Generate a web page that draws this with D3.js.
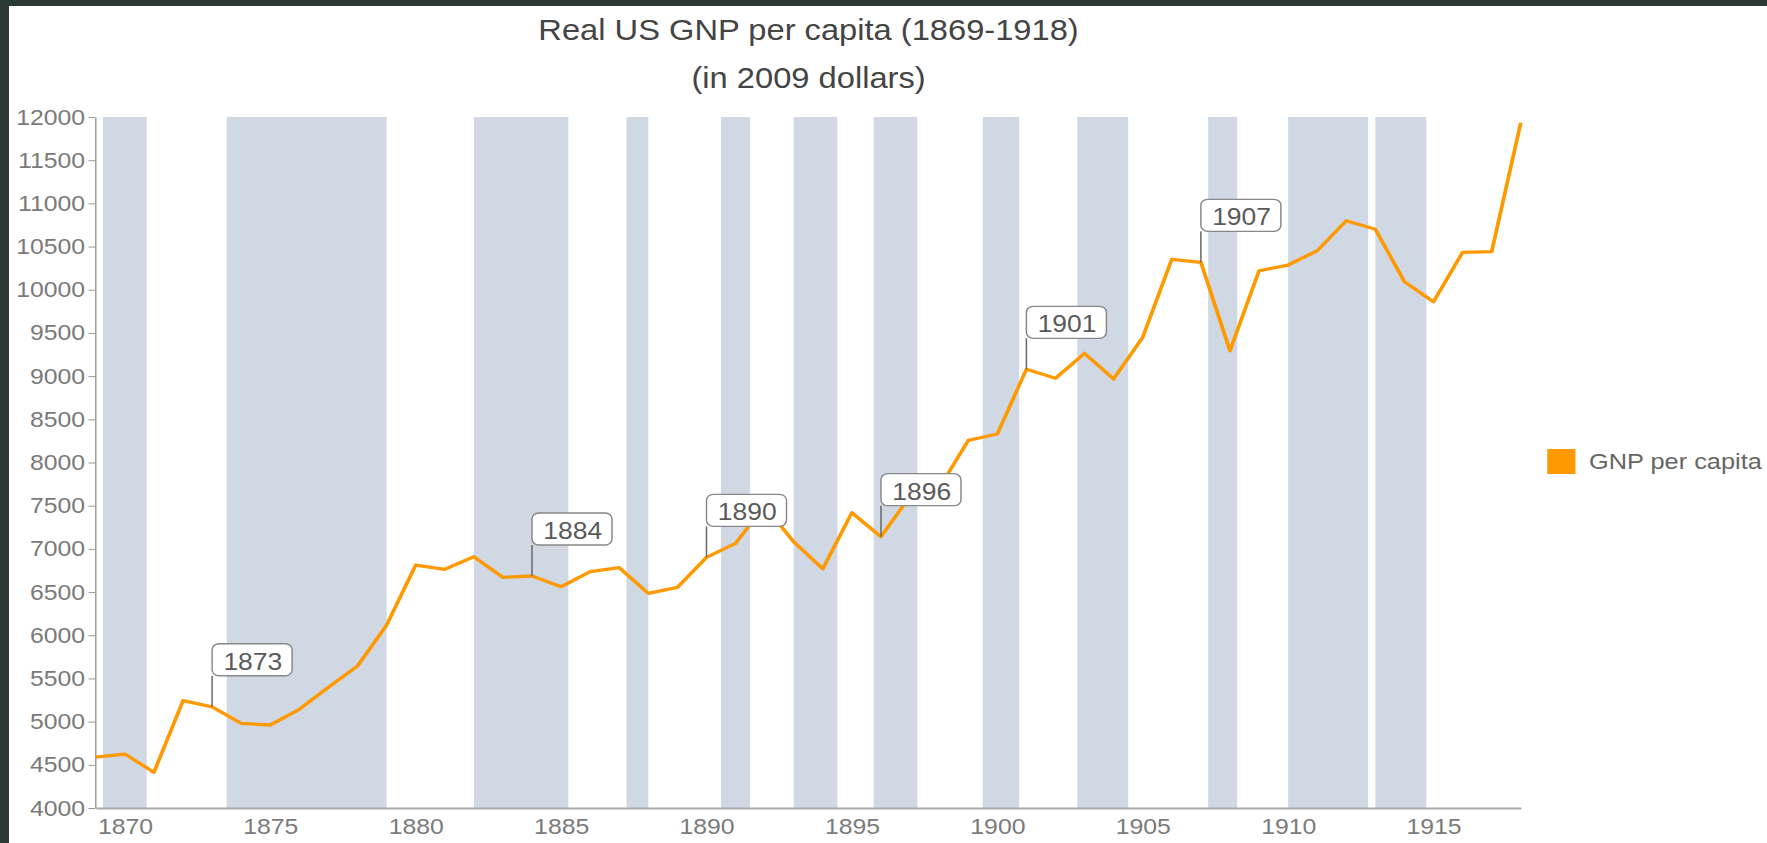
<!DOCTYPE html>
<html>
<head>
<meta charset="utf-8">
<script src="https://cdnjs.cloudflare.com/ajax/libs/d3/7.8.5/d3.min.js"></script>
<style>
  html, body { margin: 0; padding: 0; background: #2b3a34; overflow: hidden; }
  svg { display: block; }
  text { font-family: "Liberation Sans", Arial, Helvetica, sans-serif; }
</style>
</head>
<body>
<svg id="chart" width="1767" height="843"></svg>
<script>
// Data
var years = [1869, 1870, 1871, 1872, 1873, 1874, 1875, 1876, 1877, 1878,
             1879, 1880, 1881, 1882, 1883, 1884, 1885, 1886, 1887, 1888,
             1889, 1890, 1891, 1892, 1893, 1894, 1895, 1896, 1897, 1898,
             1899, 1900, 1901, 1902, 1903, 1904, 1905, 1906, 1907, 1908,
             1909, 1910, 1911, 1912, 1913, 1914, 1915, 1916, 1917, 1918];
var gnpPerCapita = [4590, 4625, 4413, 5242, 5172, 4980, 4961, 5142, 5397, 5644,
                    6118, 6813, 6763, 6909, 6670, 6686, 6562, 6736, 6782, 6485,
                    6555, 6902, 7064, 7500, 7080, 6770, 7419, 7141, 7610, 7705,
                    8255, 8330, 9079, 8975, 9264, 8967, 9449, 10352, 10318, 9294,
                    10220, 10286, 10452, 10799, 10700, 10093, 9860, 10433, 10441, 11934];

// recession periods (start, end) in fractional years
var recessionStart = [1869.25, 1873.5, 1882.0, 1887.25, 1890.5, 1893.0,
                      1895.75, 1899.5, 1902.75, 1907.25, 1910.0, 1913.0];
var recessionEnd   = [1870.75, 1879.0, 1885.25, 1888.0, 1891.5, 1894.5,
                      1897.25, 1900.75, 1904.5, 1908.25, 1912.75, 1914.75];

var labelYears = [1873, 1884, 1890, 1896, 1901, 1907];
var xTicks = [1870, 1875, 1880, 1885, 1890, 1895, 1900, 1905, 1910, 1915];
var yTicks = d3.range(4000, 12001, 500);
var seriesName = "GNP per capita";

var data = years.map(function(y, i) { return {year: y, value: gnpPerCapita[i]}; });

// the picture is stretched sideways, so draw in a narrower box and let it stretch
var svg = d3.select("#chart")
    .attr("viewBox", "0 0 1568 843")
    .attr("preserveAspectRatio", "none");

svg.append("rect")
    .attr("x", 8).attr("y", 6)
    .attr("width", 1560).attr("height", 837)
    .attr("fill", "#fff");

var x = d3.scaleLinear().domain([1869, 1918]).range([85, 1349.5]);
var y = d3.scaleLinear().domain([4000, 12000]).range([808, 117]);

// Recession bands
svg.append("g").selectAll("rect")
    .data(recessionStart)
    .enter()
    .append("rect")
    .attr("x", d => x(d))
    .attr("y", y(12000))
    .attr("width", (d, i) => x(recessionEnd[i]) - x(d))
    .attr("height", y(4000) - y(12000))
    .attr("fill", "#d0d8e4");

// Axes
var yAxis = svg.append("g")
    .attr("transform", "translate(84.5,0)")
    .call(d3.axisLeft(y).tickValues(yTicks).tickFormat(d3.format("d"))
          .tickSize(6).tickSizeOuter(0).tickPadding(3));
yAxis.select(".domain").attr("stroke", "#9a9a9a").attr("stroke-width", 1.3);
yAxis.selectAll(".tick line").attr("stroke", "#9a9a9a");
yAxis.selectAll("text")
    .attr("fill", "#7a7a7a")
    .style("font-size", "22px");

var xAxis = svg.append("g")
    .attr("transform", "translate(0," + y(4000) + ")")
    .call(d3.axisBottom(x).tickValues(xTicks).tickFormat(d3.format("d"))
          .tickSize(0).tickSizeOuter(0).tickPadding(10));
xAxis.select(".domain").attr("stroke", "#aaa").attr("stroke-width", 2);
xAxis.selectAll("text")
    .attr("fill", "#7a7a7a")
    .style("font-size", "22px");

// GNP line
var line = d3.line()
    .x(d => x(d.year))
    .y(d => y(d.value));

svg.append("path")
    .datum(data)
    .attr("fill", "none")
    .attr("stroke", "#ff9900")
    .attr("stroke-width", 3.3)
    .attr("stroke-linejoin", "round")
    .attr("d", line);

// Year annotations
var stem = 31, boxH = 32, boxW = 71;
var notes = svg.append("g").selectAll("g")
    .data(data.filter(d => labelYears.indexOf(d.year) >= 0))
    .enter()
    .append("g");

notes.append("line")
    .attr("x1", d => x(d.year))
    .attr("x2", d => x(d.year))
    .attr("y1", d => y(d.value))
    .attr("y2", d => y(d.value) - stem)
    .attr("stroke", "#666")
    .attr("stroke-width", 1.3);

notes.append("rect")
    .attr("x", d => x(d.year))
    .attr("y", d => y(d.value) - stem - boxH)
    .attr("width", boxW)
    .attr("height", boxH)
    .attr("rx", 6)
    .attr("fill", "#fff")
    .attr("stroke", "#888")
    .attr("stroke-width", 1.3);

notes.append("text")
    .attr("x", d => x(d.year) + 10)
    .attr("y", d => y(d.value) - stem - 6)
    .attr("fill", "#5a5a5a")
    .style("font-size", "23.5px")
    .text(d => d.year);

// Legend
var legend = svg.append("g")
    .attr("transform", "translate(1373,449)");
legend.append("rect")
    .attr("width", 25)
    .attr("height", 25)
    .attr("fill", "#ff9900");
legend.append("text")
    .attr("x", 37)
    .attr("y", 19.5)
    .attr("fill", "#666")
    .style("font-size", "22.5px")
    .text(seriesName);

// Titles
svg.append("text")
    .attr("x", 717.5)
    .attr("y", 40)
    .attr("text-anchor", "middle")
    .attr("fill", "#444")
    .style("font-size", "29px")
    .text("Real US GNP per capita (1869-1918)");

svg.append("text")
    .attr("x", 717.5)
    .attr("y", 88)
    .attr("text-anchor", "middle")
    .attr("fill", "#444")
    .style("font-size", "29px")
    .text("(in 2009 dollars)");
</script>
</body>
</html>
